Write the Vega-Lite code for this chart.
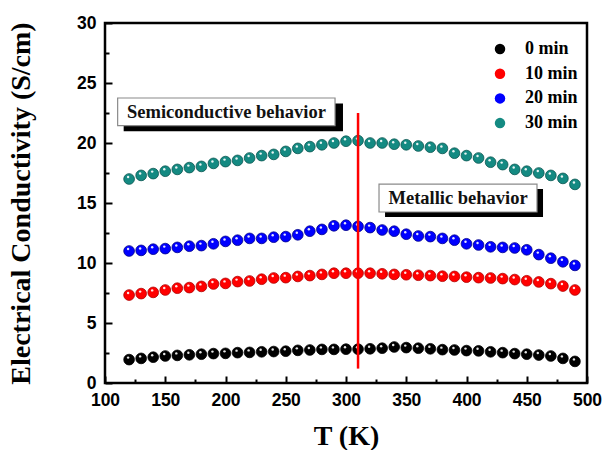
{
  "$schema": "https://vega.github.io/schema/vega-lite/v6.json",
  "width": 482,
  "height": 360,
  "autosize": {"type": "none"},
  "padding": {"left": 105, "top": 23, "right": 18, "bottom": 67},
  "background": "white",
  "config": {"view": {"stroke": "#000000", "strokeWidth": 2.5}},
  "datasets": {
    "wide": [
      {"T": 120, "0 min": 1.95, "10 min": 7.33, "20 min": 11.0, "30 min": 17.0},
      {"T": 130, "0 min": 2.05, "10 min": 7.45, "20 min": 11.05, "30 min": 17.3},
      {"T": 140, "0 min": 2.15, "10 min": 7.55, "20 min": 11.15, "30 min": 17.45},
      {"T": 150, "0 min": 2.25, "10 min": 7.75, "20 min": 11.2, "30 min": 17.65},
      {"T": 160, "0 min": 2.3, "10 min": 7.9, "20 min": 11.3, "30 min": 17.8},
      {"T": 170, "0 min": 2.35, "10 min": 7.95, "20 min": 11.4, "30 min": 17.95},
      {"T": 180, "0 min": 2.4, "10 min": 8.05, "20 min": 11.45, "30 min": 18.05},
      {"T": 190, "0 min": 2.45, "10 min": 8.25, "20 min": 11.6, "30 min": 18.3},
      {"T": 200, "0 min": 2.47, "10 min": 8.3, "20 min": 11.8, "30 min": 18.45},
      {"T": 210, "0 min": 2.53, "10 min": 8.45, "20 min": 11.9, "30 min": 18.55},
      {"T": 220, "0 min": 2.55, "10 min": 8.5, "20 min": 12.05, "30 min": 18.75},
      {"T": 230, "0 min": 2.6, "10 min": 8.65, "20 min": 12.05, "30 min": 18.95},
      {"T": 240, "0 min": 2.62, "10 min": 8.75, "20 min": 12.15, "30 min": 19.05},
      {"T": 250, "0 min": 2.65, "10 min": 8.78, "20 min": 12.2, "30 min": 19.3},
      {"T": 260, "0 min": 2.72, "10 min": 8.88, "20 min": 12.35, "30 min": 19.55},
      {"T": 270, "0 min": 2.75, "10 min": 8.95, "20 min": 12.65, "30 min": 19.7},
      {"T": 280, "0 min": 2.8, "10 min": 9.05, "20 min": 12.8, "30 min": 19.85},
      {"T": 290, "0 min": 2.8, "10 min": 9.15, "20 min": 13.1, "30 min": 20.0},
      {"T": 300, "0 min": 2.82, "10 min": 9.15, "20 min": 13.15, "30 min": 20.15},
      {"T": 310, "0 min": 2.82, "10 min": 9.15, "20 min": 13.05, "30 min": 20.2},
      {"T": 320, "0 min": 2.85, "10 min": 9.15, "20 min": 12.95, "30 min": 20.0},
      {"T": 330, "0 min": 2.9, "10 min": 9.1, "20 min": 12.75, "30 min": 20.0},
      {"T": 340, "0 min": 3.0, "10 min": 9.05, "20 min": 12.65, "30 min": 19.9},
      {"T": 350, "0 min": 2.95, "10 min": 9.02, "20 min": 12.4, "30 min": 19.85},
      {"T": 360, "0 min": 2.9, "10 min": 8.98, "20 min": 12.25, "30 min": 19.75},
      {"T": 370, "0 min": 2.85, "10 min": 8.95, "20 min": 12.2, "30 min": 19.65},
      {"T": 380, "0 min": 2.78, "10 min": 8.9, "20 min": 12.05, "30 min": 19.55},
      {"T": 390, "0 min": 2.75, "10 min": 8.88, "20 min": 11.9, "30 min": 19.15},
      {"T": 400, "0 min": 2.7, "10 min": 8.82, "20 min": 11.6, "30 min": 18.95},
      {"T": 410, "0 min": 2.68, "10 min": 8.78, "20 min": 11.5, "30 min": 18.75},
      {"T": 420, "0 min": 2.6, "10 min": 8.75, "20 min": 11.35, "30 min": 18.4},
      {"T": 430, "0 min": 2.53, "10 min": 8.7, "20 min": 11.3, "30 min": 18.2},
      {"T": 440, "0 min": 2.45, "10 min": 8.62, "20 min": 11.25, "30 min": 17.8},
      {"T": 450, "0 min": 2.4, "10 min": 8.52, "20 min": 11.1, "30 min": 17.65},
      {"T": 460, "0 min": 2.33, "10 min": 8.42, "20 min": 10.7, "30 min": 17.5},
      {"T": 470, "0 min": 2.25, "10 min": 8.28, "20 min": 10.4, "30 min": 17.3},
      {"T": 480, "0 min": 2.05, "10 min": 8.08, "20 min": 10.1, "30 min": 17.05},
      {"T": 490, "0 min": 1.8, "10 min": 7.75, "20 min": 9.8, "30 min": 16.55}
    ],
    "boxes": [
      {"label": "Semiconductive behavior", "x": 110.5, "x2": 290.9, "y": 21.44, "y2": 23.75, "sx": 115.5, "sx2": 297.5, "sy": 20.98, "sy2": 23.3, "tx": 200.8, "ty": 22.6},
      {"label": "Metallic behavior", "x": 327.4, "x2": 458.5, "y": 14.25, "y2": 16.58, "sx": 332.4, "sx2": 463.5, "sy": 13.83, "sy2": 16.17, "tx": 393, "ty": 15.4}
    ],
    "line": [{"x": 310, "y": 1.2, "y2": 22.5}]
  },
  "layer": [
    {
      "data": {"name": "boxes"},
      "mark": {"type": "rect", "fill": "#000000"},
      "encoding": {
        "x": {"field": "sx", "type": "quantitative", "scale": {"domain": [100, 500], "nice": false}, "axis": null},
        "x2": {"field": "sx2"},
        "y": {"field": "sy", "type": "quantitative", "scale": {"domain": [0, 30], "nice": false}, "axis": null},
        "y2": {"field": "sy2"}
      }
    },
    {
      "data": {"name": "boxes"},
      "mark": {"type": "rect", "fill": "#ffffff", "stroke": "#8a8a8a", "strokeWidth": 1.2},
      "encoding": {
        "x": {"field": "x", "type": "quantitative", "axis": null},
        "x2": {"field": "x2"},
        "y": {"field": "y", "type": "quantitative", "axis": null},
        "y2": {"field": "y2"}
      }
    },
    {
      "data": {"name": "boxes"},
      "mark": {"type": "text", "font": "Liberation Serif", "fontWeight": "bold", "fontSize": 18.5, "align": "center", "baseline": "middle", "color": "#111111"},
      "encoding": {
        "x": {"field": "tx", "type": "quantitative", "axis": null},
        "y": {"field": "ty", "type": "quantitative", "axis": null},
        "text": {"field": "label"}
      }
    },
    {
      "data": {"name": "wide"},
      "transform": [{"fold": ["0 min", "10 min", "20 min", "30 min"], "as": ["time", "sigma"]}],
      "mark": {"type": "circle", "size": 115, "opacity": 1, "strokeWidth": 0.8},
      "encoding": {
        "x": {
          "field": "T", "type": "quantitative",
          "axis": {
            "orient": "bottom",
            "values": [100, 150, 200, 250, 300, 350, 400, 450, 500],
            "domain": false, "grid": false,
            "tickSize": -7, "tickWidth": 2, "tickColor": "#000000",
            "labelFont": "Liberation Sans", "labelFontWeight": "bold", "labelFontSize": 17.5, "labelColor": "#000000",
            "labelPadding": 15, "labelFlush": false, "labelOverlap": false,
            "title": "T (K)", "titleFont": "Liberation Serif", "titleFontWeight": "bold", "titleFontSize": 28, "titleColor": "#000000", "titlePadding": 14
          }
        },
        "y": {
          "field": "sigma", "type": "quantitative",
          "axis": {
            "orient": "left",
            "values": [0, 5, 10, 15, 20, 25, 30],
            "domain": false, "grid": false,
            "tickSize": -7, "tickWidth": 2, "tickColor": "#000000",
            "labelFont": "Liberation Sans", "labelFontWeight": "bold", "labelFontSize": 17.5, "labelColor": "#000000",
            "labelPadding": 16, "labelFlush": false, "labelOverlap": false,
            "title": "Electrical Conductivity (S/cm)", "titleFont": "Liberation Serif", "titleFontWeight": "bold", "titleFontSize": 28, "titleColor": "#000000", "titlePadding": 41
          }
        },
        "color": {
          "field": "time", "type": "nominal",
          "scale": {"domain": ["0 min", "10 min", "20 min", "30 min"], "range": ["#000000", "#ff0000", "#0000ff", "#148a82"]},
          "legend": {
            "orient": "none", "legendX": 386, "legendY": 17, "title": null, "padding": 0,
            "labelFont": "Liberation Serif", "labelFontWeight": "bold", "labelFontSize": 18, "labelColor": "#000000",
            "symbolType": "circle", "symbolSize": 110, "symbolStrokeWidth": 0, "symbolOpacity": 1,
            "rowPadding": 6.7, "labelOffset": 16
          }
        },
        "stroke": {
          "field": "time", "type": "nominal",
          "scale": {"domain": ["0 min", "10 min", "20 min", "30 min"], "range": ["#000000", "#b00000", "#00008a", "#0a5550"]},
          "legend": null
        }
      }
    },
    {
      "data": {"name": "wide"},
      "transform": [{"fold": ["0 min", "10 min", "20 min", "30 min"], "as": ["time", "sigma"]}],
      "mark": {"type": "circle", "size": 6, "color": "#ffffff", "opacity": 0.9, "xOffset": -1, "yOffset": -2},
      "encoding": {
        "x": {
          "field": "T", "type": "quantitative",
          "axis": {"orient": "bottom", "values": [125, 175, 225, 275, 325, 375, 425, 475], "domain": false, "grid": false, "labels": false, "title": null, "tickSize": -4, "tickWidth": 2, "tickColor": "#000000"}
        },
        "y": {
          "field": "sigma", "type": "quantitative",
          "axis": {"orient": "left", "values": [2.5, 7.5, 12.5, 17.5, 22.5, 27.5], "domain": false, "grid": false, "labels": false, "title": null, "tickSize": -4, "tickWidth": 2, "tickColor": "#000000"}
        }
      }
    },
    {
      "data": {"name": "line"},
      "mark": {"type": "rule", "color": "#ff0000", "strokeWidth": 2.5},
      "encoding": {
        "x": {"field": "x", "type": "quantitative", "axis": null},
        "y": {"field": "y", "type": "quantitative", "axis": null},
        "y2": {"field": "y2"}
      }
    }
  ],
  "resolve": {"axis": {"x": "independent", "y": "independent"}}
}
